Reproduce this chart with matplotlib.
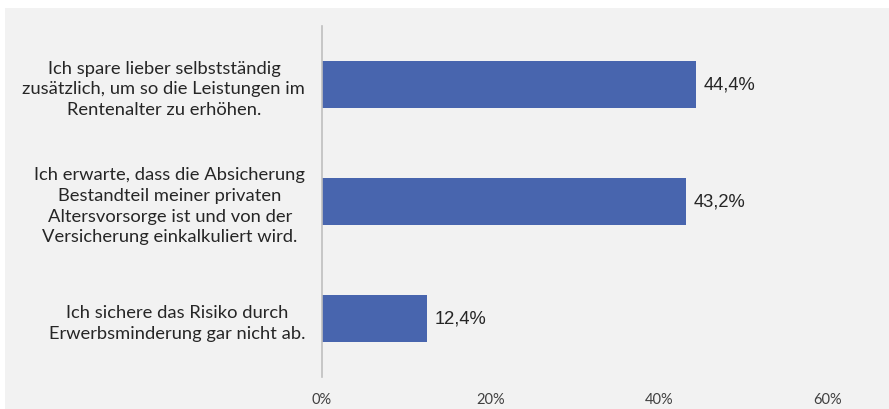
import matplotlib.pyplot as plt
from matplotlib.patches import Rectangle

# data
categories = [
    'Ich spare lieber selbstständig\nzusätzlich, um so die Leistungen im\nRentenalter zu erhöhen.',
    'Ich erwarte, dass die Absicherung\nBestandteil meiner privaten\nAltersvorsorge ist und von der\nVersicherung einkalkuliert wird.',
    'Ich sichere das Risiko durch\nErwerbsminderung gar nicht ab.',
]
values = [0.444, 0.432, 0.124]
value_labels = ['44,4%', '43,2%', '12,4%']
x_ticks = [0, 0.2, 0.4, 0.6]
x_tick_labels = ['0%', '20%', '40%', '60%']

bg = '#f2f2f2'
bar_color = '#4865ae'

fig = plt.figure(figsize=(8.89, 4.10), dpi=100)
fig.patch.set_facecolor('white')
fig.patches.append(Rectangle((5 / 889, 0), 1, 1 - 9 / 410, transform=fig.transFigure,
                             facecolor=bg, edgecolor='none', zorder=-10))

ax = fig.add_axes([322 / 889, 1 - 378 / 410, (828 - 322) / 889, (378 - 27) / 410])
ax.set_facecolor(bg)

ypos = list(range(len(categories)))
ax.barh(ypos, values, height=0.4, color=bar_color)
ax.set_ylim(2.5, -0.5)
ax.set_xlim(0, 0.6)

for y, v, lab in zip(ypos, values, value_labels):
    ax.text(v + 0.009, y, lab, va='center', ha='left', fontsize=13.2,
            family='Liberation Sans', color='#262626')

ax.set_yticks(ypos)
ax.set_yticklabels(categories, fontsize=13.2, family='Lato', color='#262626')
for t in ax.get_yticklabels():
    t.set_multialignment('center')
    t.set_linespacing(1.35)
ax.tick_params(axis='y', length=0, pad=12)

ax.set_xticks(x_ticks)
ax.set_xticklabels(x_tick_labels, fontsize=10.5, family='Lato', color='#404040')
ax.tick_params(axis='x', length=0, pad=11)

for s in ['top', 'right', 'bottom']:
    ax.spines[s].set_visible(False)
ax.spines['left'].set_color('#bfbfbf')
ax.spines['left'].set_linewidth(1.2)

fig.savefig('out.png', dpi=100, facecolor=fig.get_facecolor())
